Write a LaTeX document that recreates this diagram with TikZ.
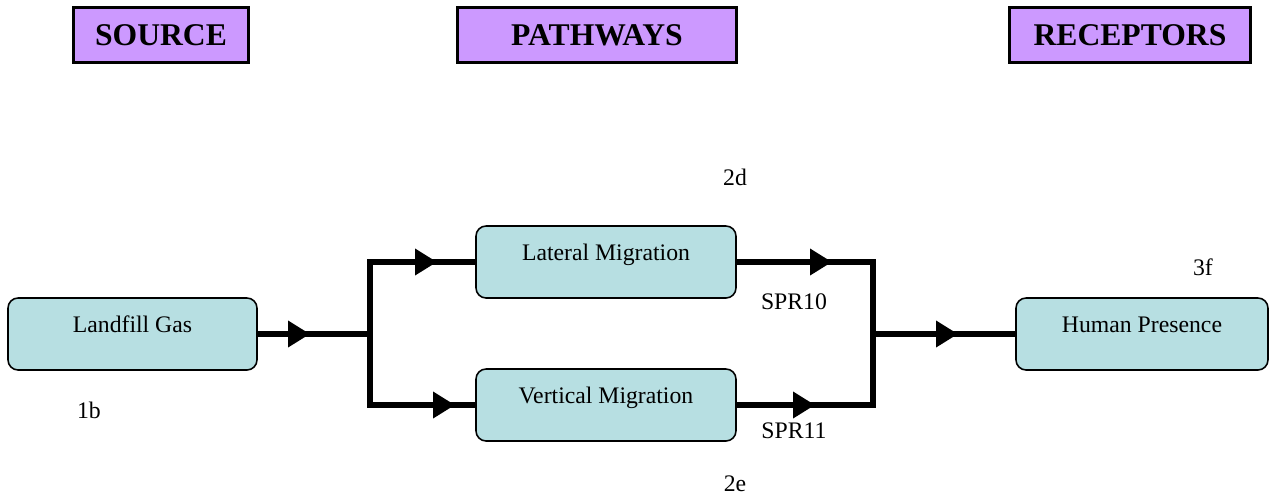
\documentclass[tikz,border=0pt]{standalone}
\usepackage{fontspec}
\setmainfont{Liberation Serif}
\usetikzlibrary{arrows.meta}

\definecolor{hdrpurple}{RGB}{204,153,255}
\definecolor{boxcyan}{RGB}{183,223,226}

\begin{document}
\begin{tikzpicture}[%
  x=0.02cm,
  y=-0.02cm,
  >={Triangle[length=12.5pt,width=14.5pt]},
  header/.style={
    draw,
    line width=1.7pt,
    fill=hdrpurple,
    minimum height=1.1cm,
    font=\fontsize{18}{20}\selectfont\bfseries},
  stage/.style={
    draw,
    line width=0.9pt,
    rounded corners=0.2cm,
    fill=boxcyan,
    minimum width=5.2cm,
    minimum height=1.44cm,
    text height=0.45cm,
    text depth=0.52cm,
    font=\fontsize{13.5}{15}\selectfont},
  tag/.style={
    font=\fontsize{13.5}{15}\selectfont},
  flow/.style={
    line width=3pt,
    line join=miter}
  ]
  \useasboundingbox (0,0) rectangle (1269,498);
  %% Headers
  \node[header, minimum width=3.52cm] (src) at (161,35) {SOURCE};
  \node[header, minimum width=5.6cm] (pth) at (597,35) {PATHWAYS};
  \node[header, minimum width=4.84cm] (rec) at (1130,35) {RECEPTORS};
  %% Boxes
  \node[stage, minimum width=4.98cm] (gas) at (132.5,334) {Landfill Gas};
  \node[stage] (lat) at (606,262) {Lateral Migration};
  \node[stage] (ver) at (606,405) {Vertical Migration};
  \node[stage, minimum width=5.04cm] (hum) at (1142,334) {Human Presence};
  %% Labels
  \node[tag] (l1b) at (89,410) {1b};
  \node[tag] (l2d) at (735,177) {2d};
  \node[tag] (l2e) at (735,484) {2e};
  \node[tag] (l3f) at (1203,267) {3f};
  \node[tag] (spr10) at (794,302) {SPR10};
  \node[tag] (spr11) at (794,431) {SPR11};
  %% Junctions and arrow tips
  \coordinate (j1) at (370,334);
  \coordinate (j1t) at (370,262);
  \coordinate (j1b) at (370,405);
  \coordinate (j2) at (873,334);
  \coordinate (j2t) at (873,262);
  \coordinate (j2b) at (873,405);
  \coordinate (a1) at (310,334);
  \coordinate (a2) at (437,262);
  \coordinate (a3) at (455,405);
  \coordinate (a4) at (832,262);
  \coordinate (a5) at (815,405);
  \coordinate (a6) at (958,334);
  %% Edges
  \draw[flow] (gas.east) -- (j1);
  \draw[flow] (lat.west) -- (j1t) -- (j1b) -- (ver.west);
  \draw[flow] (lat.east) -- (j2t) -- (j2b) -- (ver.east);
  \draw[flow] (j2) -- (hum.west);
  \draw[flow,->] (gas.east) -- (a1);
  \draw[flow,->] (j1t) -- (a2);
  \draw[flow,->] (j1b) -- (a3);
  \draw[flow,->] (lat.east) -- (a4);
  \draw[flow,->] (ver.east) -- (a5);
  \draw[flow,->] (j2) -- (a6);
\end{tikzpicture}
\end{document}
